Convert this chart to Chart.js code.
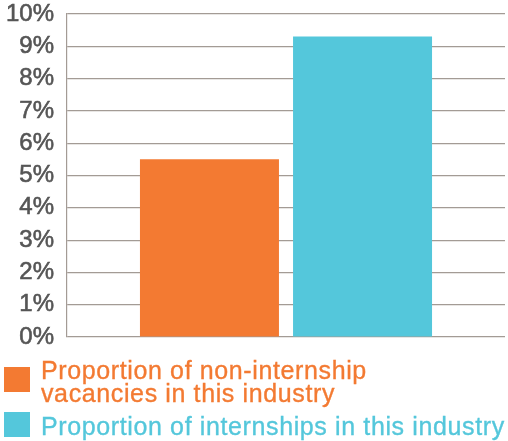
<!DOCTYPE html>
<html>
<head>
<meta charset="utf-8">
<script src="https://cdn.jsdelivr.net/npm/chart.js@4"></script>
<style>
  body { margin: 0; background: #fff; }
  #wrap { position: relative; width: 508px; height: 441px; font-family: "Liberation Sans", Arial, sans-serif; overflow: hidden; }
  #chart { position: absolute; left: 0; top: -11px; }
  .leg { position: absolute; left: 0; }
  .leg .box { position: absolute; left: 4px; width: 26px; height: 25px; }
  .leg .txt { position: absolute; left: 41px; font-size: 25px; line-height: 23px; letter-spacing: 0.62px; white-space: nowrap; -webkit-text-stroke: 0.35px currentColor; }
</style>
</head>
<body>
<div id="wrap">
  <canvas id="chart" width="508" height="373"></canvas>
  <div class="leg" id="leg1"><div class="box" style="top:367px"></div><div class="txt" style="top:359px"></div></div>
  <div class="leg" id="leg2"><div class="box" style="top:412px"></div><div class="txt" style="top:415px"></div></div>
</div>
<script>
// data
const categories = [''];
const seriesNames = [
    ['Proportion of non-internship', 'vacancies in this industry'],
    ['Proportion of internships in this industry']
];
const nonInternship = [5.5];
const internships = [9.3];
const yTicks = [0, 1, 2, 3, 4, 5, 6, 7, 8, 9, 10];

const colors = ['#f37a32', '#54c7db'];
const gridColor = '#a39b95';

new Chart(document.getElementById('chart').getContext('2d'), {
    type: 'bar',
    data: {
        labels: categories,
        datasets: [{
            label: seriesNames[0].join(' '),
            data: nonInternship,
            backgroundColor: colors[0]
        }, {
            label: seriesNames[1].join(' '),
            data: internships,
            backgroundColor: colors[1]
        }]
    },
    options: {
        responsive: false,
        animation: false,
        devicePixelRatio: 1,
        categoryPercentage: 0.699,
        barPercentage: 0.908,
        layout: { padding: { left: 4, right: 3, top: 0, bottom: 0 } },
        plugins: {
            legend: { display: false },
            tooltip: { enabled: false }
        },
        scales: {
            x: { display: false },
            y: {
                min: yTicks[0],
                max: yTicks[yTicks.length - 1],
                afterBuildTicks: axis => { axis.ticks = yTicks.map(v => ({ value: v })); },
                afterFit: axis => { axis.width = 63; },
                ticks: {
                    padding: 13,
                    color: '#555555',
                    textStrokeColor: '#555555',
                    textStrokeWidth: 0.6,
                    font: { family: '"Liberation Sans", Arial, sans-serif', size: 24, lineHeight: 1 },
                    callback: v => v + '%'
                },
                grid: { color: gridColor, lineWidth: 1.2, drawTicks: false },
                border: { display: true, color: gridColor, width: 1.2 }
            }
        }
    }
});

// legend below the plot, text coloured like its bars
['leg1', 'leg2'].forEach((id, i) => {
    const el = document.getElementById(id);
    el.querySelector('.box').style.background = colors[i];
    const txt = el.querySelector('.txt');
    txt.style.color = colors[i];
    txt.innerHTML = seriesNames[i].join('<br>');
});
</script>
</body>
</html>
